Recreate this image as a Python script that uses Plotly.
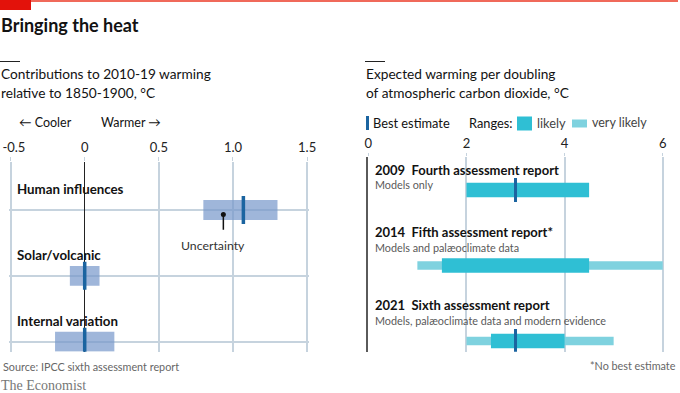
import plotly.graph_objects as go

W, H = 680, 393

# ---------------- data ----------------
factors = ["Human influences", "Solar/volcanic", "Internal variation"]
factor_best = [1.07, 0.0, 0.0]
factor_low = [0.8, -0.1, -0.2]
factor_high = [1.3, 0.1, 0.2]
left_tickvals = [-0.5, 0, 0.5, 1.0, 1.5]
left_ticktext = ["\u00a0\u00a0-0.5", "0", "0.5", "1.0", "1.5"]

reports = ["2009  Fourth assessment report", "2014  Fifth assessment report*", "2021  Sixth assessment report"]
report_notes = ["Models only", "Models and palæoclimate data", "Models, palæoclimate data and modern evidence"]
likely_low = [2.0, 1.5, 2.5]
likely_high = [4.5, 4.5, 4.0]
vlikely_low = [None, 1.0, 2.0]
vlikely_high = [None, 6.0, 5.0]
report_best = [3.0, None, 3.0]
right_tickvals = [0, 2, 4, 6]

# ---------------- styles / layout ----------------
FONT = "Lato"
GRID = "#c6d3de"
BOX = "rgba(118,151,202,0.7)"
BEST = "#1b64a0"
LIKELY = "#2fbfd4"
VLIKELY = "#7fd2df"
TXT = "#121212"
GREY = "#595959"
REPORT_TITLE_Y = [169.5, 232, 305]   # pixel rows of the right-hand row titles


def px(x):
    return x / W


def py(y):
    return 1 - y / H


fig = go.Figure()

# left panel
rows_l = list(range(len(factors)))
fig.add_trace(go.Bar(
    y=rows_l, x=[h - l for l, h in zip(factor_low, factor_high)], base=factor_low,
    orientation="h", width=0.30, marker=dict(color=BOX, line=dict(width=0)),
    xaxis="x", yaxis="y", hoverinfo="skip", showlegend=False))
fig.add_trace(go.Scatter(
    x=factor_best, y=rows_l, mode="markers",
    marker=dict(symbol="line-ns", size=20, line=dict(width=3.5, color=BEST)),
    xaxis="x", yaxis="y", showlegend=False, hoverinfo="skip"))

# uncertainty pointer: midpoint of lower part of the human-influences range
ux = (factor_low[0] + factor_best[0]) / 2
fig.add_trace(go.Scatter(
    x=[ux, ux], y=[0.07, 0.30], mode="lines",
    line=dict(color="#111", width=1.5), xaxis="x", yaxis="y",
    showlegend=False, hoverinfo="skip"))
fig.add_trace(go.Scatter(
    x=[ux], y=[0.07], mode="markers", marker=dict(color="#111", size=5),
    xaxis="x", yaxis="y", showlegend=False, hoverinfo="skip"))

# right panel
rows_r = list(range(len(reports)))
vr = [i for i in rows_r if vlikely_low[i] is not None]
fig.add_trace(go.Bar(
    y=vr, x=[vlikely_high[i] - vlikely_low[i] for i in vr], base=[vlikely_low[i] for i in vr],
    orientation="h", width=0.115, marker=dict(color=VLIKELY, line=dict(width=0)),
    xaxis="x2", yaxis="y2", hoverinfo="skip", showlegend=False))
fig.add_trace(go.Bar(
    y=rows_r, x=[h - l for l, h in zip(likely_low, likely_high)], base=likely_low,
    orientation="h", width=0.19, marker=dict(color=LIKELY, line=dict(width=0)),
    xaxis="x2", yaxis="y2", hoverinfo="skip", showlegend=False))
br = [i for i in rows_r if report_best[i] is not None]
fig.add_trace(go.Scatter(
    x=[report_best[i] for i in br], y=br, mode="markers",
    marker=dict(symbol="line-ns", size=17, line=dict(width=3, color=BEST)),
    xaxis="x2", yaxis="y2", showlegend=False, hoverinfo="skip"))

# ---------------- axes ----------------
l_zero, l_scale = 84.7, 148.3
l_rng = [-0.51, 1.51]
l_x0, l_x1 = l_zero + l_rng[0] * l_scale, l_zero + l_rng[1] * l_scale
l_top, l_bot = 162, 351.7
l_r0, l_step = 210, 65.85
r_zero, r_scale = 368.3, 49.07
r_rng = [0, 6.03]
r_x0, r_x1 = r_zero + r_rng[0] * r_scale, r_zero + r_rng[1] * r_scale
r_top, r_bot = 157, 351.7
r_r0, r_step = 190, 75.5

tickfont = dict(family=FONT, size=13, color="#222")

fig.update_layout(
    width=W, height=H, margin=dict(l=0, r=0, t=0, b=0, autoexpand=False),
    paper_bgcolor="white", plot_bgcolor="white", barmode="overlay",
    showlegend=False,
    xaxis=dict(domain=[px(l_x0), px(l_x1)], range=l_rng, anchor="y", side="top",
               tickvals=left_tickvals, ticktext=left_ticktext, tickfont=tickfont,
               ticklabeloverflow="allow",
               showgrid=True, gridcolor=GRID, gridwidth=1.5,
               zeroline=True, zerolinecolor="#222", zerolinewidth=1.3, automargin=False,
               ticks="outside", ticklen=4, tickcolor=GRID, showline=False, fixedrange=True),
    yaxis=dict(domain=[py(l_bot), py(l_top)], anchor="x", automargin=False,
               range=[(l_bot - l_r0) / l_step, (l_top - l_r0) / l_step],
               tickvals=rows_l, showticklabels=False, showgrid=True, gridcolor=GRID,
               gridwidth=1.5, zeroline=False, showline=False, fixedrange=True),
    xaxis2=dict(domain=[px(r_x0), px(r_x1)], range=r_rng, anchor="y2", side="top",
                tickvals=right_tickvals, tickfont=tickfont, automargin=False,
                ticklabeloverflow="allow",
                showgrid=True, gridcolor=GRID, gridwidth=1.5, zeroline=False,
                ticks="outside", ticklen=3, tickcolor=GRID, showline=False, fixedrange=True),
    yaxis2=dict(domain=[py(r_bot), py(r_top)], anchor="x2", automargin=False,
                range=[(r_bot - r_r0) / r_step, (r_top - r_r0) / r_step],
                showticklabels=False, showgrid=False, zeroline=False,
                showline=True, linecolor="#5a5a5a", linewidth=2, fixedrange=True),
)

# ---------------- decorations ----------------
shapes = [
    dict(type="line", xref="paper", yref="paper", x0=0, x1=px(678), y0=py(1), y1=py(1),
         line=dict(color="#f0695a", width=2)),
    dict(type="rect", xref="paper", yref="paper", x0=0, x1=px(31), y0=py(10), y1=py(0),
         fillcolor="#e3120b", line=dict(width=0)),
    dict(type="line", xref="paper", yref="paper", x0=0, x1=px(20), y0=py(61.5), y1=py(61.5),
         line=dict(color="#222", width=1)),
    dict(type="line", xref="paper", yref="paper", x0=px(365), x1=px(385), y0=py(61.5), y1=py(61.5),
         line=dict(color="#222", width=1)),
    dict(type="rect", xref="paper", yref="paper", x0=px(366), x1=px(369), y0=py(130), y1=py(116),
         fillcolor=BEST, line=dict(width=0)),
    dict(type="rect", xref="paper", yref="paper", x0=px(517), x1=px(532), y0=py(130.5), y1=py(116.5),
         fillcolor=LIKELY, line=dict(width=0)),
    dict(type="rect", xref="paper", yref="paper", x0=px(572), x1=px(587), y0=py(127.5), y1=py(119.5),
         fillcolor=VLIKELY, line=dict(width=0)),
]
fig.update_layout(shapes=shapes)

ann = []


def text(x, y, s, size=13, color=TXT, bold=False, family=FONT, anchor="left"):
    ann.append(dict(xref="paper", yref="paper", x=px(x), y=py(y), text=f"<b>{s}</b>" if bold else s,
                    showarrow=False, xanchor=anchor, yanchor="middle",
                    font=dict(family=family, size=size, color=color)))


text(-1, 25, "Bringing the heat", size=18, bold=True)
text(-1, 73, "Contributions to 2010-19 warming", size=13.7)
text(-1, 92, "relative to 1850-1900, °C", size=13.7)
text(17, 123, "← Cooler", size=12.5)
text(99, 123, "Warmer →", size=12.5)
for i, name in enumerate(factors):
    text(15, l_r0 + i * l_step - 21, name, size=13.3, bold=True)
text(213, 245, "Uncertainty", size=12.3, color="#333", anchor="center")

text(364, 73, "Expected warming per doubling", size=13.7)
text(364, 92, "of atmospheric carbon dioxide, °C", size=13.7)
text(371, 123, "Best estimate", size=12.8)
text(467, 123, "Ranges:", size=12.8)
text(535, 123, "likely", size=12.8, color="#444")
text(590, 123, "very likely", size=12.5, color="#444")
for i, (name, note) in enumerate(zip(reports, report_notes)):
    ty = REPORT_TITLE_Y[i]
    text(373, ty, name, size=13, bold=True)
    text(373, ty + 15, note, size=10.8, color=GREY)

text(1, 366.5, "Source: IPCC sixth assessment report", size=10.8, color="#666")
text(-1, 385, "The Economist", size=14, color="#777", family="Liberation Serif")
text(678, 365, "*No best estimate", size=10.8, color="#666", anchor="right")

fig.update_layout(annotations=ann)

fig.write_html("out.html", config={"displayModeBar": False},
               post_script="document.body.style.margin='0';document.body.style.padding='0';document.documentElement.style.overflow='hidden';")
